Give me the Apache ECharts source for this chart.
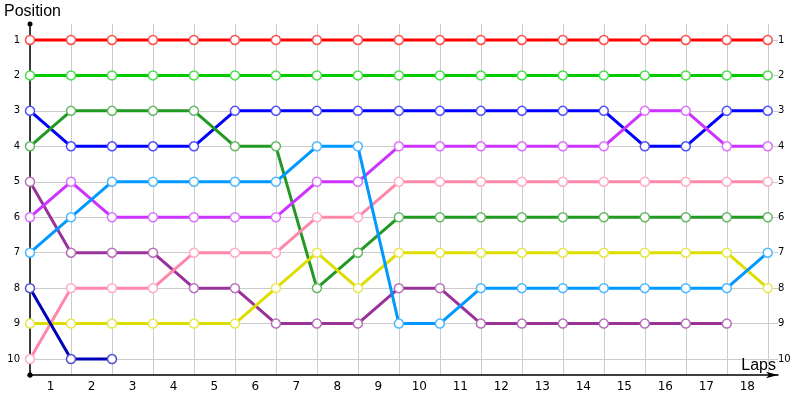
<!DOCTYPE html>
<html lang="en">
<head>
<meta charset="utf-8">
<title>Lap chart</title>
<script src="https://cdn.jsdelivr.net/npm/echarts@6/dist/echarts.min.js"></script>
<style>
  html, body { margin: 0; padding: 0; background: #fff; }
  #main { width: 800px; height: 400px; }
</style>
</head>
<body>
<div id="main"></div>
<script type="text/javascript">
    // lap boundaries (points) and lap numbers shown between them
    let laps = [0, 1, 2, 3, 4, 5, 6, 7, 8, 9, 10, 11, 12, 13, 14, 15, 16, 17, 18];
    let lapLabels = ['1', '2', '3', '4', '5', '6', '7', '8', '9', '10', '11', '12', '13', '14', '15', '16', '17', '18'];
    let positions = [1, 2, 3, 4, 5, 6, 7, 8, 9, 10];

    // position of each car after every lap
    let redCar       = [1, 1, 1, 1, 1, 1, 1, 1, 1, 1, 1, 1, 1, 1, 1, 1, 1, 1, 1];
    let greenCar     = [2, 2, 2, 2, 2, 2, 2, 2, 2, 2, 2, 2, 2, 2, 2, 2, 2, 2, 2];
    let blueCar      = [3, 4, 4, 4, 4, 3, 3, 3, 3, 3, 3, 3, 3, 3, 3, 4, 4, 3, 3];
    let darkGreenCar = [4, 3, 3, 3, 3, 4, 4, 8, 7, 6, 6, 6, 6, 6, 6, 6, 6, 6, 6];
    let skyBlueCar   = [7, 6, 5, 5, 5, 5, 5, 4, 4, 9, 9, 8, 8, 8, 8, 8, 8, 8, 7];
    let magentaCar   = [6, 5, 6, 6, 6, 6, 6, 5, 5, 4, 4, 4, 4, 4, 4, 3, 3, 4, 4];
    let purpleCar    = [5, 7, 7, 7, 8, 8, 9, 9, 9, 8, 8, 9, 9, 9, 9, 9, 9, 9];
    let pinkCar      = [10, 8, 8, 8, 7, 7, 7, 6, 6, 5, 5, 5, 5, 5, 5, 5, 5, 5, 5];
    let yellowCar    = [9, 9, 9, 9, 9, 9, 8, 7, 8, 7, 7, 7, 7, 7, 7, 7, 7, 7, 8];
    let navyCar      = [8, 10, 10];

    let cars = [
        { name: 'Car A', data: redCar,       color: '#ff0000' },
        { name: 'Car B', data: greenCar,     color: '#00cc00' },
        { name: 'Car C', data: blueCar,      color: '#0000ff' },
        { name: 'Car D', data: darkGreenCar, color: '#229922' },
        { name: 'Car E', data: purpleCar,    color: '#993399' },
        { name: 'Car F', data: pinkCar,      color: '#ff88aa' },
        { name: 'Car G', data: yellowCar,    color: '#dddd00' },
        { name: 'Car H', data: magentaCar,   color: '#cc33ff' },
        { name: 'Car I', data: skyBlueCar,   color: '#0099ff' },
        { name: 'Car J', data: navyCar,      color: '#0000bb' }
    ];

    // lighter tone for the marker rings
    function lighten(hex, k){
        let n = parseInt(hex.slice(1), 16);
        let r = (n >> 16) & 255, g = (n >> 8) & 255, b = n & 255;
        let f = (c) => Math.round(c + (255 - c) * k);
        return 'rgb(' + f(r) + ',' + f(g) + ',' + f(b) + ')';
    }

    let series = [];
    cars.forEach((c) => {
        series.push({
            name: c.name,
            type: 'line',
            data: c.data.map((v, i) => [laps[i], v]),
            symbol: 'circle',
            symbolSize: 9,
            showAllSymbol: true,
            lineStyle: { color: c.color, width: 3 },
            itemStyle: { color: '#fff', borderColor: lighten(c.color, 0.3), borderWidth: 1.5 },
            emphasis: { disabled: true },
            animation: false
        });
    });

    let labelFont = 'DejaVu Sans';
    let nameStyle = { fontFamily: 'Liberation Sans', fontSize: 16, fontWeight: 'normal', color: '#000' };

    let Chart = echarts.init(document.getElementById('main'), null, { renderer: 'canvas' });

    let option = {
        animation: false,
        // axis names
        title: [
            { text: 'Position', left: 4, top: 4, padding: 0, textStyle: nameStyle },
            { text: 'Laps', right: 24, top: 358, padding: 0, textStyle: nameStyle }
        ],
        grid: { left: 30, right: 22, top: 24, bottom: 25, containLabel: false, outerBoundsMode: 'none' },
        xAxis: {
            type: 'value',
            min: 0,
            max: 18.25,
            axisLine: { lineStyle: { color: '#000', width: 1.5 }, symbol: ['circle', 'arrow'], symbolSize: [5, 12] },
            axisTick: { show: false, customValues: laps },
            splitLine: { show: true, lineStyle: { color: '#cccccc', width: 1 } },
            axisLabel: {
                customValues: lapLabels.map((l, i) => i + 0.5),
                formatter: (v) => lapLabels[Math.floor(v)],
                fontFamily: labelFont,
                fontSize: 12,
                color: '#000',
                margin: 6
            }
        },
        yAxis: [
            {
                type: 'value',
                inverse: true,
                min: 0.55,
                max: 10.45,
                axisLine: { show: true, lineStyle: { color: '#000', width: 1.5 }, symbol: ['circle', 'circle'], symbolSize: [5, 5] },
                axisTick: { show: false, customValues: positions },
                splitLine: { show: true, lineStyle: { color: '#cccccc', width: 1 } },
                axisLabel: { customValues: positions, fontFamily: labelFont, fontSize: 10, color: '#000', margin: 10 }
            },
            {
                type: 'value',
                inverse: true,
                position: 'right',
                min: 0.55,
                max: 10.45,
                axisLine: { show: false },
                axisTick: { show: false, customValues: positions },
                splitLine: { show: false },
                axisLabel: { customValues: positions, fontFamily: labelFont, fontSize: 10, color: '#000', margin: 0 }
            }
        ],
        series: series
    };

    Chart.setOption(option);
</script>
</body>
</html>
